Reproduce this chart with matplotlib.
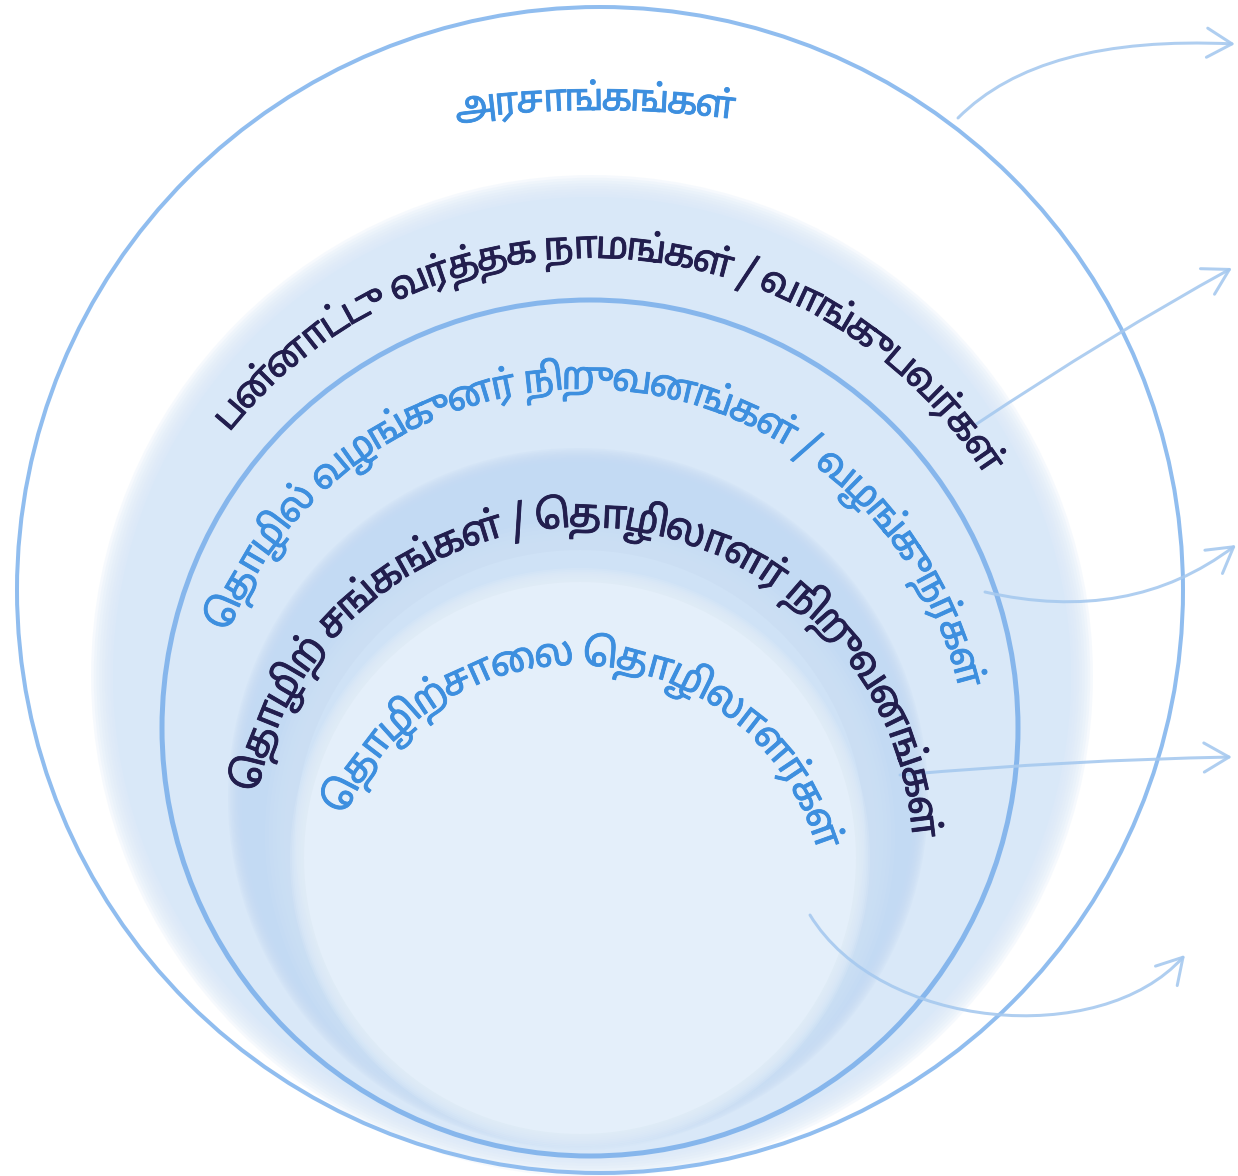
import unicodedata
import numpy as np
import matplotlib
matplotlib.use("Agg")
import matplotlib.pyplot as plt
from matplotlib import font_manager as fm
from matplotlib.font_manager import FontProperties
from matplotlib.patches import Circle, FancyArrowPatch
from matplotlib.path import Path
import matplotlib.patheffects as pe

# ---------------- data ----------------
labels = [
    "அரசாங்கங்கள்",
    "பன்னாட்டு வர்த்தக நாமங்கள் / வாங்குபவர்கள்",
    "தொழில் வழங்குனர் நிறுவனங்கள் / வழங்குநர்கள்",
    "தொழிற் சங்கங்கள் / தொழிலாளர் நிறுவனங்கள்",
    "தொழிற்சாலை தொழிலாளர்கள்",
]
label_colors = ["#3d8fdf", "#221e4e", "#3d8fdf", "#221e4e", "#3d8fdf"]

# ---------------- layout (pixels, y down) ----------------
W, H = 1238, 1176
arc_center = [(597, 1150), (592, 722), (585, 772), (582, 858), (575, 916)]
arc_radius = [1040, 464, 383, 331, 251]
arc_span = [(-7.7, 7.5), (-51.3, 57.8), (-68.5, 77.4), (-78.5, 86.5), (-66.3, 74.8)]
glyph_scale = 1.08

# ---------------- fonts ----------------
def has_tamil(path):
    try:
        cm = fm.get_font(path).get_charmap()
    except Exception:
        return False
    return 0x0B95 in cm and 0x0BCD in cm

tamil_name, tamil_path = "DejaVu Sans", fm.findfont("DejaVu Sans")
for fam in ["Noto Sans Tamil", "Noto Sans Tamil UI", "Lohit Tamil", "Mukta Malar", "Hind Madurai"]:
    try:
        p = fm.findfont(FontProperties(family=fam), fallback_to_default=False)
    except Exception:
        continue
    if has_tamil(p):
        tamil_name, tamil_path = fam, p
        break
dv_path = fm.findfont("DejaVu Sans")
FAMILY = [tamil_name, "DejaVu Sans"]

try:
    from matplotlib.ft2font import LoadFlags
    NOHINT = LoadFlags.NO_HINTING
except Exception:
    from matplotlib.ft2font import LOAD_NO_HINTING as NOHINT

_adv_cache = {}
def advance(ch):
    if ch in _adv_cache:
        return _adv_cache[ch]
    f = fm.get_font(tamil_path)
    if ord(ch) not in f.get_charmap():
        f = fm.get_font(dv_path)
    f.set_size(100, 72)
    g = f.load_char(ord(ch), flags=NOHINT)
    a = g.linearHoriAdvance / 65536.0 / 100.0
    _adv_cache[ch] = a
    return a

PRE = {"\u0BC6", "\u0BC7", "\u0BC8"}
SPLIT = {"\u0BCA": ("\u0BC6", "\u0BBE"), "\u0BCB": ("\u0BC7", "\u0BBE"),
         "\u0BCC": ("\u0BC6", "\u0BD7")}

def visual_units(s):
    clusters = []
    for ch in s:
        if clusters and unicodedata.category(ch) in ("Mn", "Mc") and clusters[-1] != " ":
            clusters[-1] += ch
        else:
            clusters.append(ch)
    units = []
    for c in clusters:
        base, marks = c[0], c[1:]
        pre, post = "", ""
        for m in marks:
            if m in SPLIT:
                pre += SPLIT[m][0]
                post += SPLIT[m][1]
            elif m in PRE:
                pre += m
            else:
                post += m
        if pre:
            units.append(pre)
        units.append(base + post)
    return units

def unit_width(u):
    return sum(advance(ch) for ch in u)

# ---------------- figure ----------------
fig = plt.figure(figsize=(W / 100, H / 100), dpi=100)
ax = fig.add_axes([0, 0, 1, 1])
ax.set_xlim(0, W)
ax.set_ylim(H, 0)
ax.axis("off")
fig.patch.set_facecolor("white")

def soft_disk(c, r, color, soft=14, z=1, n=8):
    for i in range(n):
        rr = r + soft / 2 - soft * i / n
        ax.add_patch(Circle(c, rr, facecolor=color, edgecolor="none", alpha=0.22, zorder=z))
    ax.add_patch(Circle(c, r - soft / 2, facecolor=color, edgecolor="none", zorder=z))

PX = 0.72  # px -> pt

soft_disk((592, 676), 490, "#d9e8f8", soft=22, z=1)
soft_disk((578, 798), 343, "#c3daf3", soft=14, z=2)
soft_disk((580, 835), 300, "#cfe2f6", soft=30, z=3)
soft_disk((580, 858), 283, "#e4effa", soft=14, z=4)

ax.add_patch(Circle((600, 590), 583, facecolor="none", edgecolor="#90bdef", lw=4 * PX, zorder=6))
ax.add_patch(Circle((590, 728), 428, facecolor="none", edgecolor="#86b6ec", lw=5 * PX, zorder=6))

arrow_paths = [
    ([(958, 118), (1040, 35), (1235, 44)], [Path.MOVETO, Path.CURVE3, Path.CURVE3]),
    ([(975, 425), (1110, 335), (1232, 268)], [Path.MOVETO, Path.CURVE3, Path.CURVE3]),
    ([(985, 592), (1130, 625), (1236, 545)], [Path.MOVETO, Path.CURVE3, Path.CURVE3]),
    ([(900, 775), (1070, 760), (1232, 757)], [Path.MOVETO, Path.CURVE3, Path.CURVE3]),
    ([(810, 915), (880, 1030), (1100, 1050), (1185, 955)],
     [Path.MOVETO, Path.CURVE4, Path.CURVE4, Path.CURVE4]),
]
for verts, codes in arrow_paths:
    ax.add_patch(FancyArrowPatch(path=Path(verts, codes), arrowstyle="->,head_length=0.6,head_width=0.35",
                                 mutation_scale=30, color="#a6c9ef", lw=3 * PX, alpha=0.9, zorder=7))

for text, col, c, R, span in zip(labels, label_colors, arc_center, arc_radius, arc_span):
    units = visual_units(text)
    widths = [unit_width(u) for u in units]
    total_em = sum(widths)
    L = R * np.radians(span[1] - span[0])
    fs_px = L / total_em
    fs_pt = fs_px * 72 / 100 * glyph_scale
    s = 0.0
    for u, w in zip(units, widths):
        mid = s + w / 2
        s += w
        if u.strip() == "":
            continue
        phi = np.radians(span[0]) + mid * fs_px / R
        x = c[0] + R * np.sin(phi)
        y = c[1] - R * np.cos(phi)
        ax.text(x, y, u, fontsize=fs_pt, family=FAMILY, color=col,
                rotation=-np.degrees(phi), rotation_mode="anchor", ha="center", va="baseline", zorder=10,
                path_effects=[pe.Stroke(linewidth=0.6, foreground=col), pe.Normal()])

fig.savefig("out.png", dpi=100, facecolor="white")
